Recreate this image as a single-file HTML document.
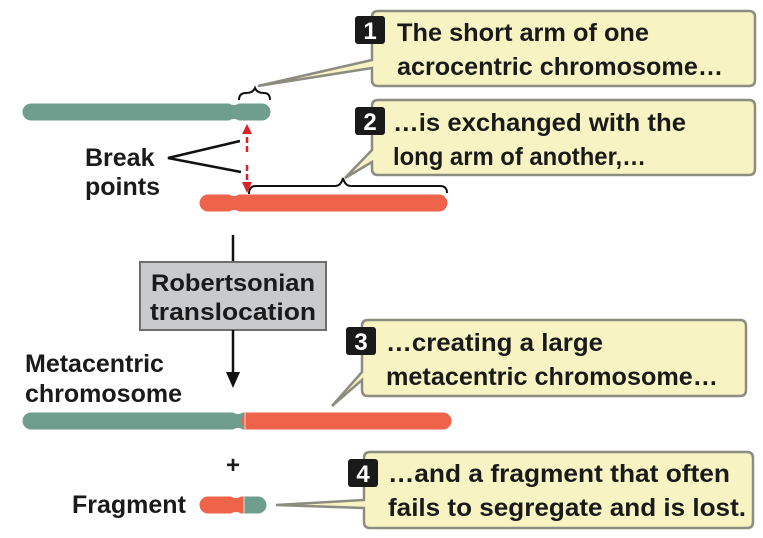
<!DOCTYPE html>
<html><head><meta charset="utf-8"><style>
html,body{margin:0;padding:0;background:#fff;}
svg{display:block;}
text{font-family:"Liberation Sans",sans-serif;font-weight:bold;fill:#1a1a1a;}
</style></head><body>
<svg width="763" height="538" viewBox="0 0 763 538">
<!-- callout boxes -->
<g fill="#f8f3c3" stroke="#8c8c80" stroke-width="2.5">
<path d="M378,11 H749 Q755,11 755,17 V80 Q755,86 749,86 H378 Q372,86 372,80 V68 L258,86 L372,60 V17 Q372,11 378,11z"/>
<path d="M378,100 H749 Q755,100 755,106 V169 Q755,175 749,175 H378 Q372,175 372,169 V162 L345,178 L372,150 V106 Q372,100 378,100z"/>
<path d="M368,320 H740 Q746,320 746,326 V390 Q746,396 740,396 H368 Q362,396 362,390 V380 L332,406 L362,372 V326 Q362,320 368,320z"/>
<path d="M370,452 H747 Q753,452 753,458 V522 Q753,528 747,528 H370 Q364,528 364,522 V508 L276,505 L364,500 V458 Q364,452 370,452z"/>
</g>
<!-- badges -->
<g fill="#1a1a1a">
<rect x="355" y="16" width="30" height="28" rx="3"/>
<rect x="355" y="107" width="30" height="28" rx="3"/>
<rect x="346" y="327" width="30" height="28" rx="3"/>
<rect x="348" y="459" width="30" height="28" rx="3"/>
</g>
<g font-size="24" text-anchor="middle">
<text x="370" y="39" style="fill:#fff">1</text>
<text x="370" y="130" style="fill:#fff">2</text>
<text x="361" y="350" style="fill:#fff">3</text>
<text x="363" y="482" style="fill:#fff">4</text>
</g>
<g font-size="25">
<text x="397" y="41" textLength="252" lengthAdjust="spacingAndGlyphs">The short arm of one</text>
<text x="397" y="75" textLength="326" lengthAdjust="spacingAndGlyphs">acrocentric chromosome…</text>
<text x="393" y="131" textLength="293" lengthAdjust="spacingAndGlyphs">…is exchanged with the</text>
<text x="393" y="165" textLength="253" lengthAdjust="spacingAndGlyphs">long arm of another,…</text>
<text x="386" y="351" textLength="217" lengthAdjust="spacingAndGlyphs">…creating a large</text>
<text x="386" y="385" textLength="332" lengthAdjust="spacingAndGlyphs">metacentric chromosome…</text>
<text x="388" y="482" textLength="342" lengthAdjust="spacingAndGlyphs">…and a fragment that often</text>
<text x="388" y="516" textLength="358" lengthAdjust="spacingAndGlyphs">fails to segregate and is lost.</text>
</g>
<!-- chromosomes -->
<g stroke-linecap="round" stroke-width="17">
<line x1="31" y1="112" x2="262" y2="112" stroke="#6f9e8e"/>
<line x1="208" y1="203" x2="439" y2="203" stroke="#ee6349"/>
<line x1="31" y1="421" x2="244" y2="421" stroke="#6f9e8e"/>
<line x1="250" y1="421" x2="443" y2="421" stroke="#ee6349"/>
<line x1="208" y1="505" x2="244" y2="505" stroke="#ee6349"/>
<line x1="252" y1="505" x2="258" y2="505" stroke="#6f9e8e"/>
</g>
<rect x="244" y="412.5" width="6" height="17" fill="#ee6349"/>
<rect x="244" y="496.5" width="6" height="17" fill="#6f9e8e"/>
<line x1="245" y1="412" x2="245" y2="430" stroke="#ddd" stroke-width="1"/>
<line x1="244" y1="496" x2="244" y2="514" stroke="#ddd" stroke-width="1"/>
<g fill="#fff">
<ellipse cx="234" cy="101" rx="6" ry="4"/><ellipse cx="234" cy="123" rx="6" ry="4"/>
<ellipse cx="234" cy="192" rx="6" ry="4"/><ellipse cx="234" cy="214" rx="6" ry="4"/>
<ellipse cx="238" cy="410" rx="6" ry="4"/><ellipse cx="238" cy="432" rx="6" ry="4"/>
<ellipse cx="236" cy="494" rx="6" ry="4"/><ellipse cx="236" cy="516" rx="6" ry="4"/>
</g>
<!-- braces -->
<path d="M239,100 Q239,93 246,93 Q253,93 255,88 Q257,93 264,93 Q270,93 270,100" fill="none" stroke="#111" stroke-width="2"/>
<path d="M249,194 Q249,186 256,186 H335 Q341,186 343,178 Q345,186 351,186 H440 Q447,186 447,193" fill="none" stroke="#111" stroke-width="2"/>
<!-- red arrows -->
<line x1="247" y1="152" x2="247" y2="132" stroke="#d8232a" stroke-width="2.5" stroke-dasharray="6,3"/>
<path d="M242,134 L252,134 L247,124z" fill="#d8232a"/>
<line x1="247" y1="165" x2="247" y2="184" stroke="#d8232a" stroke-width="2.5" stroke-dasharray="6,3"/>
<path d="M242,182 L252,182 L247,193z" fill="#d8232a"/>
<path d="M240,141 L168,158 L241,172" fill="none" stroke="#111" stroke-width="2.5"/>
<g font-size="25">
<text x="85" y="166">Break</text>
<text x="85" y="195">points</text>
<text x="25" y="372">Metacentric</text>
<text x="25" y="402">chromosome</text>
<text x="72" y="513">Fragment</text>
<text x="226" y="473" font-weight="normal" font-size="24">+</text>
</g>
<!-- central process -->
<line x1="233" y1="235" x2="233" y2="262" stroke="#111" stroke-width="2.5"/>
<rect x="140" y="262" width="186" height="68" fill="#c9cacc" stroke="#6e6e6e" stroke-width="2"/>
<text x="233" y="291" font-size="24" text-anchor="middle" textLength="164" lengthAdjust="spacingAndGlyphs">Robertsonian</text>
<text x="233" y="320" font-size="24" text-anchor="middle" textLength="166" lengthAdjust="spacingAndGlyphs">translocation</text>
<line x1="233" y1="330" x2="233" y2="375" stroke="#111" stroke-width="2.5"/>
<path d="M226,372 L240,372 L233,388z" fill="#111"/>
</svg>
</body></html>
